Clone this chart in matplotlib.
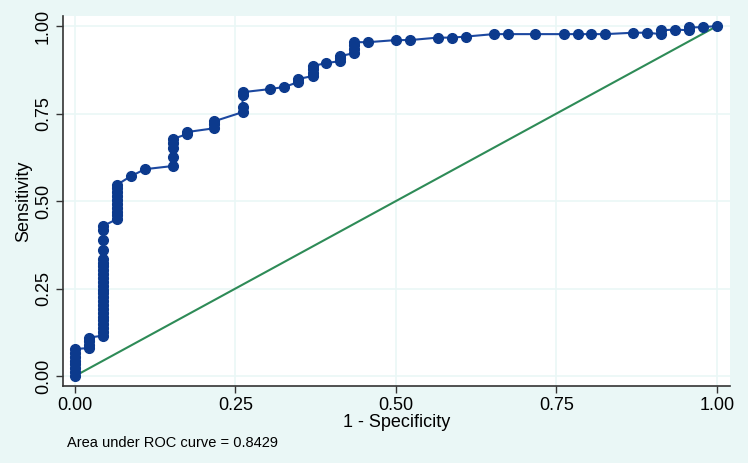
import matplotlib.pyplot as plt
import numpy as np

# ROC points (1 - specificity, sensitivity)
fpr = [0.000] * 8 + [0.022] * 4 + [0.043] * 25 + [0.065] * 10 + [
    0.087, 0.109] + [0.152] * 5 + [0.174] * 2 + [0.217] * 3 + [0.261] * 4 + [
    0.304, 0.326, 0.348, 0.348] + [0.370] * 4 + [0.391] + [0.413] * 3 + [0.435] * 4 + [
    0.457, 0.500, 0.522, 0.565, 0.587, 0.609, 0.652, 0.674, 0.717, 0.761,
    0.783, 0.804, 0.826, 0.870, 0.891, 0.913, 0.913, 0.935, 0.957, 0.957, 0.978, 1.000]

tpr = [0.000, 0.011, 0.022, 0.033, 0.044, 0.055, 0.066, 0.077] + [
    0.080, 0.090, 0.100, 0.110] + [
    0.115, 0.126, 0.137, 0.148, 0.159, 0.170, 0.181, 0.192, 0.203, 0.214,
    0.225, 0.236, 0.247, 0.258, 0.269, 0.280, 0.291, 0.302, 0.313, 0.324,
    0.335, 0.360, 0.390, 0.418, 0.428] + [
    0.448, 0.459, 0.470, 0.481, 0.492, 0.503, 0.514, 0.525, 0.536, 0.546] + [
    0.571, 0.591] + [0.600, 0.626, 0.651, 0.666, 0.677] + [0.691, 0.697] + [
    0.708, 0.720, 0.728] + [0.754, 0.769, 0.803, 0.811] + [
    0.820, 0.826, 0.840, 0.849] + [0.857, 0.866, 0.877, 0.886] + [0.894] + [
    0.900, 0.908, 0.914] + [0.923, 0.934, 0.945, 0.954] + [
    0.954, 0.960, 0.960, 0.967, 0.967, 0.970, 0.977, 0.977, 0.977, 0.977,
    0.977, 0.977, 0.977, 0.981, 0.981, 0.977, 0.988, 0.990, 0.988, 0.996, 0.997, 1.000]

ticks = [0.0, 0.25, 0.5, 0.75, 1.0]
tick_labels = ["0.00", "0.25", "0.50", "0.75", "1.00"]
auc = 0.8429

plt.rcParams["font.family"] = ["Liberation Sans", "DejaVu Sans"]

bg = "#eaf7f6"
navy = "#0c3a8d"
green = "#2e8b57"

fig = plt.figure(figsize=(7.48, 4.63), dpi=100, facecolor=bg)
ax = fig.add_axes([0.0842, 0.1663, 0.8917, 0.799])
ax.set_facecolor("white")

# grid
for t in ticks:
    ax.axhline(t, color=bg, linewidth=1.2, zorder=0)
    ax.axvline(t, color=bg, linewidth=1.2, zorder=0)

# reference line
ax.plot([0, 1], [0, 1], color=green, linewidth=1.5, zorder=2)

# ROC curve
ax.plot(fpr, tpr, color="#1c48a0", linewidth=1.5, zorder=3)
ax.plot(fpr, tpr, linestyle="none", marker="o", markersize=7,
        markerfacecolor=navy, markeredgecolor=navy, zorder=4)

ax.set_xlim(-0.0187, 1.0203)
ax.set_ylim(-0.0286, 1.0286)

ax.set_xticks(ticks)
ax.set_xticklabels(tick_labels, fontsize=13)
ax.set_yticks(ticks)
ax.set_yticklabels(tick_labels, fontsize=13, rotation=90, va="center")
ax.tick_params(direction="out", length=5, width=1, color="#333333", pad=3)

for side in ["top", "right"]:
    ax.spines[side].set_visible(False)
for side in ["left", "bottom"]:
    ax.spines[side].set_color("#333333")
    ax.spines[side].set_linewidth(1.2)

ax.set_xlabel("1 - Specificity", fontsize=13, labelpad=0)
ax.set_ylabel("Sensitivity", fontsize=13, labelpad=2)

fig.text(67 / 748, 1 - 443 / 463, f"Area under ROC curve = {auc:.4f}",
         fontsize=10.5, ha="left", va="center")

fig.savefig("out.png", dpi=100, facecolor=bg)
